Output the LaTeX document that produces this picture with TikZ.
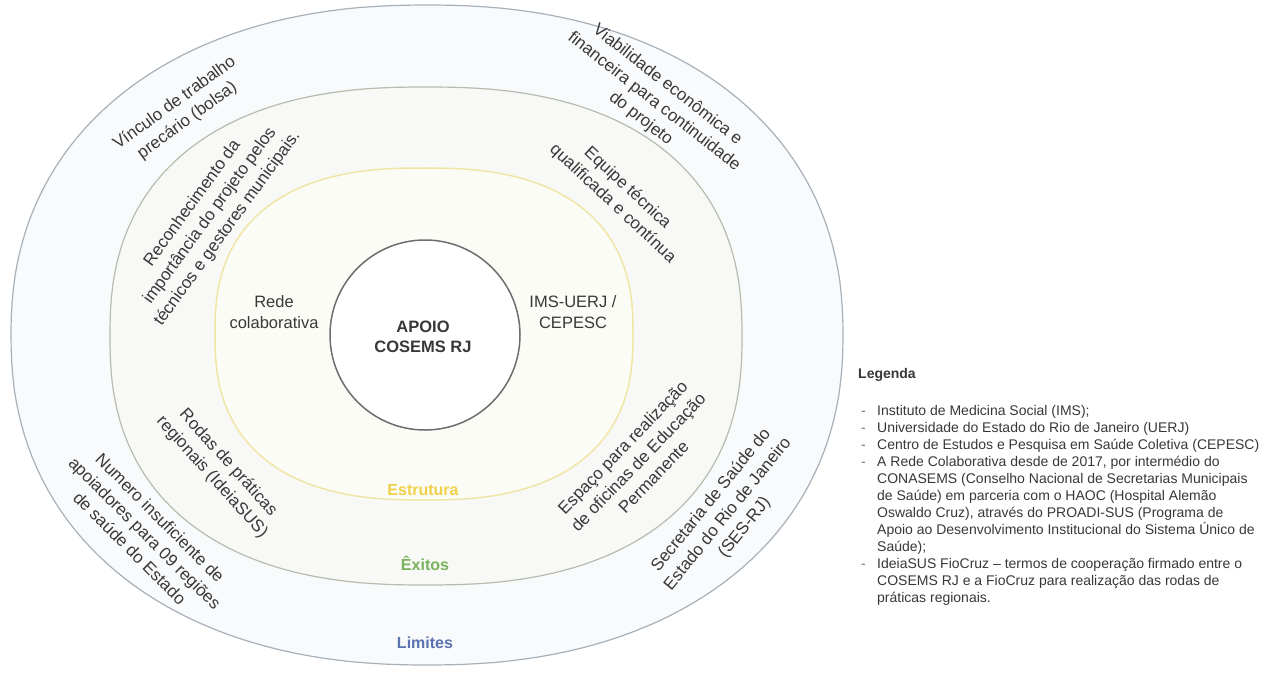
\documentclass[tikz,border=0pt]{standalone}
\usepackage{fontspec}
\setmainfont{Liberation Sans}
\definecolor{txt}{HTML}{383838}
\definecolor{limline}{HTML}{A8B0B8}
\definecolor{limfill}{HTML}{F8FAFC}
\definecolor{exline}{HTML}{B5BDAE}
\definecolor{exfill}{HTML}{F8F9F6}
\definecolor{estline}{HTML}{EFE6A6}
\definecolor{estfill}{HTML}{FCFCF7}
\definecolor{coreline}{HTML}{6E6E6E}
\definecolor{estlbl}{HTML}{F0D048}
\definecolor{exlbl}{HTML}{78B25C}
\definecolor{limlbl}{HTML}{5B72B0}
% superellipse: centre x, centre y, half width, half height, exponent 2/n
\newcommand\ringpath[5]{plot[domain=0.5:360.5,samples=181]
  ({#1+#3*sign(cos(\x))*abs(cos(\x))^(#5)},{#2+#4*sign(sin(\x))*abs(sin(\x))^(#5)}) -- cycle}
\begin{document}
\begin{tikzpicture}[x=1pt,y=-1pt,
  lbl/.style={font=\fontsize{16.5}{20.5}\selectfont, text=txt, align=center, inner sep=0pt},
  rlbl/.style={font=\fontsize{17}{21.5}\selectfont, text=txt, align=center, inner sep=0pt},
  ringlbl/.style={font=\fontsize{16}{19}\selectfont\bfseries, inner sep=0pt},
  legline/.style={font=\fontsize{14}{17}\selectfont, text=txt, anchor=base west, inner sep=0pt},
  legdash/.style={font=\fontsize{14}{17}\selectfont, text=txt!70, anchor=base west, inner sep=0pt}]
\useasboundingbox[fill=white] (0,0) rectangle (1268,672);

% rings
\path[fill=limfill, draw=limline, line width=1.2pt] \ringpath{427}{335}{416}{330}{0.9};
\path[fill=exfill, draw=exline, line width=1.2pt] \ringpath{426}{336}{316}{249}{0.83};
\path[fill=estfill, draw=estline, line width=1.5pt] \ringpath{424}{334}{209}{166}{0.8};
\node[circle, draw=coreline, fill=white, line width=1.5pt, minimum size=190pt, inner sep=0pt] (core) at (425,335) {};

% centre and structure ring
\node[lbl, font=\fontsize{16.5}{20.5}\selectfont\bfseries] (apoio) at (423,337) {APOIO\\COSEMS RJ};
\node[lbl] (rede) at (274,312) {Rede\\colaborativa};
\node[lbl] (ims) at (573,312) {IMS-UERJ /\\CEPESC};

% ring titles
\node[ringlbl, text=estlbl] (estrutura) at (423,490) {Estrutura};
\node[ringlbl, text=exlbl] (exitos) at (425,563) {Êxitos};
\node[ringlbl, text=limlbl] (limites) at (425,643) {Limites};

% Êxitos ring
\node[rlbl, rotate=54] (reconh) at (210,216) {Reconhecimento da\\importância do projeto pelos\\técnicos e gestores municipais.};
\node[rlbl, rotate=-43] (equipe) at (620,196) {Equipe técnica\\qualificada e contínua};
\node[rlbl, rotate=-48] (rodas) at (220,470) {Rodas de práticas\\regionais (IdeiaSUS)};
\node[rlbl, rotate=46] (espaco) at (638,462) {Espaço para realização\\de oficinas de Educação\\Permanente};

% Limites ring
\node[rlbl, rotate=36] (vinculo) at (181,112) {Vínculo de trabalho\\precário (bolsa)};
\node[rlbl, rotate=-38] (viab) at (654,102) {Viabilidade econômica e\\financeira para continuidade\\do projeto};
\node[rlbl, rotate=-45] (numero) at (145,533) {Numero insuficiente de\\apoiadores para 09 regiões\\de saúde do Estado};
\node[rlbl, rotate=51] (ses) at (728,514) {Secretaria de Saúde do\\Estado do Rio de Janeiro\\(SES-RJ)};

% legend
\node[legline, font=\fontsize{14}{17}\selectfont\bfseries] (legenda) at (858,378) {Legenda};
\foreach \yy [count=\i] in {415,432,449,466,568}
  \node[legdash] (dash\i) at (861,\yy) {-};
\foreach \yy/\t [count=\i] in {
  415/{Instituto de Medicina Social (IMS);},
  432/{Universidade do Estado do Rio de Janeiro (UERJ)},
  449/{Centro de Estudos e Pesquisa em Saúde Coletiva (CEPESC)},
  466/{A Rede Colaborativa desde de 2017, por intermédio do},
  483/{CONASEMS (Conselho Nacional de Secretarias Municipais},
  500/{de Saúde) em parceria com o HAOC (Hospital Alemão},
  517/{Oswaldo Cruz), através do PROADI-SUS (Programa de},
  534/{Apoio ao Desenvolvimento Institucional do Sistema Único de},
  551/{Saúde);},
  568/{IdeiaSUS FioCruz – termos de cooperação firmado entre o},
  585/{COSEMS RJ e a FioCruz para realização das rodas de},
  602/{práticas regionais.}}
  \node[legline] (leg\i) at (877,\yy) {\t};
\end{tikzpicture}
\end{document}
